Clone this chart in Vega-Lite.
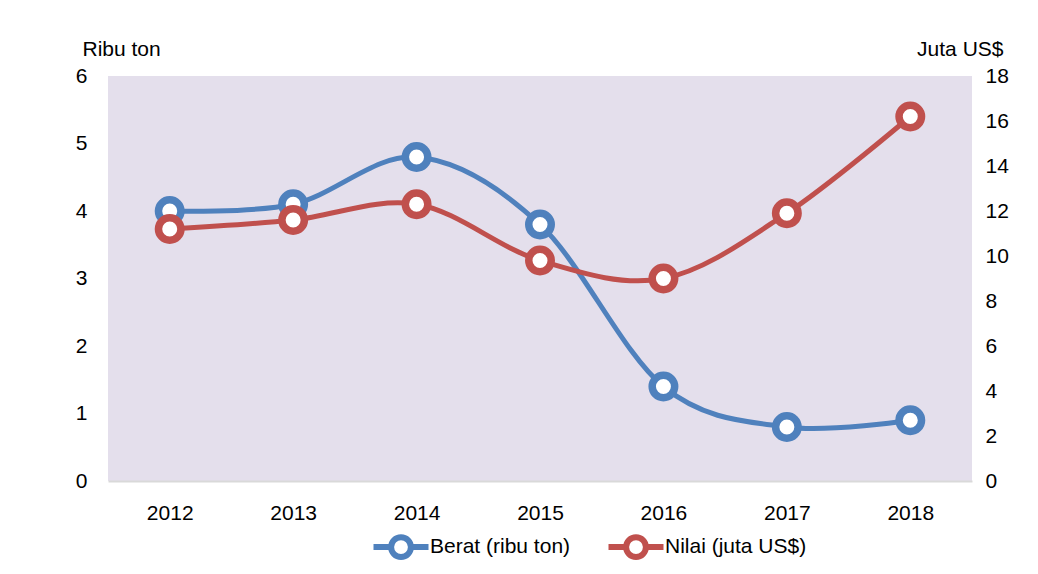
{
  "$schema": "https://vega.github.io/schema/vega-lite/v6.json",
  "width": 864,
  "height": 405,
  "autosize": {"type": "none"},
  "padding": {"left": 108, "top": 76, "right": 66, "bottom": 93},
  "background": "white",
  "config": {
    "font": "Liberation Sans Narrow, Arial Narrow, Liberation Sans, sans-serif",
    "view": {"fill": "#e4dfec", "stroke": null},
    "axis": {
      "labelFontSize": 21,
      "labelColor": "black",
      "titleFontSize": 21,
      "titleFontWeight": "normal",
      "titleColor": "black",
      "ticks": false,
      "grid": false,
      "domain": false
    },
    "legend": {"labelFontSize": 21, "labelColor": "black"}
  },
  "data": {
    "values": [
      {"year": "2012", "berat": 4.0, "nilai": 11.2},
      {"year": "2013", "berat": 4.1, "nilai": 11.6},
      {"year": "2014", "berat": 4.8, "nilai": 12.3},
      {"year": "2015", "berat": 3.8, "nilai": 9.8},
      {"year": "2016", "berat": 1.4, "nilai": 9.0},
      {"year": "2017", "berat": 0.8, "nilai": 11.9},
      {"year": "2018", "berat": 0.9, "nilai": 16.2}
    ]
  },
  "encoding": {
    "x": {
      "field": "year",
      "type": "ordinal",
      "title": null,
      "axis": {
        "labelAngle": 0,
        "labelPadding": 21,
        "domain": true,
        "domainColor": "#d9d9d9",
        "domainWidth": 2
      }
    }
  },
  "layer": [
    {
      "encoding": {
        "y": {
          "field": "berat",
          "type": "quantitative",
          "scale": {"domain": [0, 6]},
          "axis": {
            "values": [0, 1, 2, 3, 4, 5, 6],
            "title": "Ribu ton",
            "titleAngle": 0,
            "titleAlign": "left",
            "titleBaseline": "alphabetic",
            "titleX": -26,
            "titleY": -21,
            "labelPadding": 21
          }
        },
        "color": {
          "datum": "Berat (ribu ton)",
          "type": "nominal",
          "scale": {
            "domain": ["Berat (ribu ton)", "Nilai (juta US$)"],
            "range": ["#4f81bd", "#c0504d"]
          },
          "legend": {
            "orient": "none",
            "legendX": 279,
            "legendY": 457,
            "direction": "horizontal",
            "title": null,
            "padding": 0,
            "symbolType": "M-2.5,0H-0.9A0.9,0.9 0 1,1 0.9,0H2.5M0.9,0A0.9,0.9 0 1,1 -0.9,0",
            "symbolSize": 484,
            "symbolStrokeWidth": 6,
            "labelOffset": 15,
            "columnPadding": 25,
            "encode": {
              "symbols": {
                "update": {
                  "fill": {"value": "white"},
                  "fillOpacity": {"value": 1},
                  "stroke": {"scale": "color", "field": "value"},
                  "strokeWidth": {"value": 6},
                  "opacity": {"value": 1}
                }
              }
            }
          }
        }
      },
      "layer": [
        {"mark": {"type": "line", "interpolate": "cardinal", "tension": 0, "strokeWidth": 5}},
        {"mark": {"type": "point", "shape": "circle", "size": 506, "strokeWidth": 7.5, "filled": false, "fill": "white", "opacity": 1}}
      ]
    },
    {
      "encoding": {
        "y": {
          "field": "nilai",
          "type": "quantitative",
          "scale": {"domain": [0, 18]},
          "axis": {
            "orient": "right",
            "values": [0, 2, 4, 6, 8, 10, 12, 14, 16, 18],
            "title": "Juta US$",
            "titleAngle": 0,
            "titleAlign": "right",
            "titleBaseline": "alphabetic",
            "titleX": 31,
            "titleY": -21,
            "labelPadding": 13
          }
        },
        "color": {"datum": "Nilai (juta US$)", "type": "nominal"}
      },
      "layer": [
        {"mark": {"type": "line", "interpolate": "cardinal", "tension": 0, "strokeWidth": 5}},
        {"mark": {"type": "point", "shape": "circle", "size": 506, "strokeWidth": 7.5, "filled": false, "fill": "white", "opacity": 1}}
      ]
    }
  ],
  "resolve": {"scale": {"y": "independent"}}
}
